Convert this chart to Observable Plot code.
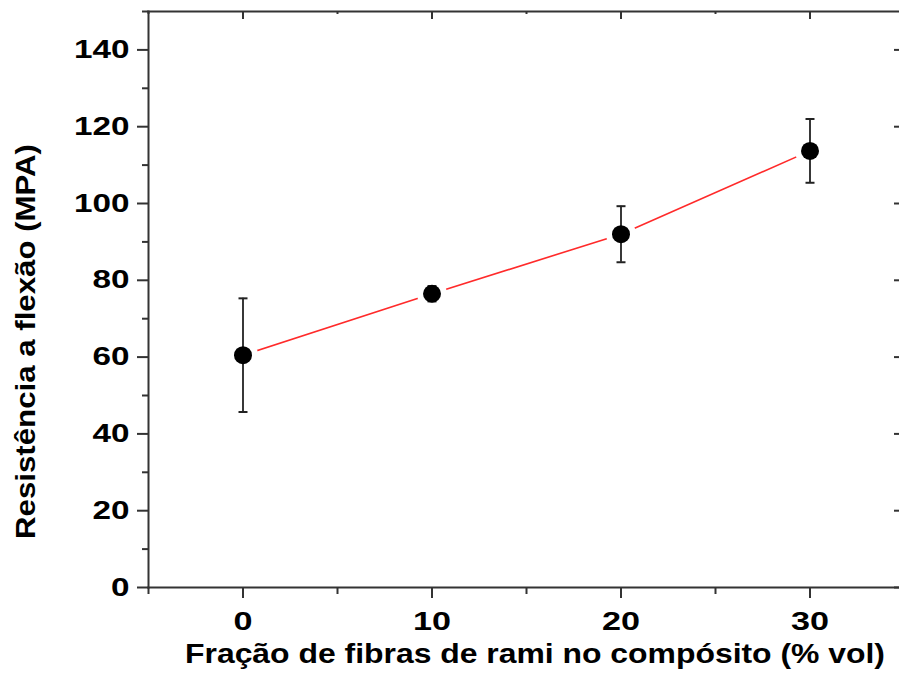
<!DOCTYPE html>
<html><head><meta charset="utf-8">
<script src="https://cdn.jsdelivr.net/npm/d3@7"></script>
<script src="https://cdn.jsdelivr.net/npm/@observablehq/plot@0.6"></script>
<style>html,body{margin:0;padding:0;background:#fff}</style>
</head><body><div id="chart"></div>
<script>
const fraction = [0, 10, 20, 30];
const strength = [60.5, 76.5, 92, 113.7];
const stdDev = [14.8, 2, 7.3, 8.3];
const xTicks = [0, 10, 20, 30];
const xMinorTicks = [-5, 5, 15, 25, 35];
const yTicks = [0, 20, 40, 60, 80, 100, 120, 140];
const yMinorTicks = [10, 30, 50, 70, 90, 110, 130, 150];
const xTitle = "Fração de fibras de rami no compósito (% vol)";
const yTitle = "Resistência a flexão (MPA)";

const data = fraction.map((x, i) => ({x, y: strength[i], lo: strength[i] - stdDev[i], hi: strength[i] + stdDev[i]}));

const W = 899, H = 673, ML = 148, MR = 0, MT = 11, MB = 86;
const innerW = W - ML - MR, innerH = H - MT - MB;
const capSymbol = {draw(ctx, size) { const w = Math.sqrt(size / Math.PI); ctx.moveTo(-w, 0); ctx.lineTo(w, 0); }};
const axisStroke = "#333";
const lab = {fontSize: 25, fontWeight: "bold", fill: "#000"};

const chart = Plot.plot({
  width: W, height: H, marginLeft: ML, marginRight: MR, marginTop: MT, marginBottom: MB,
  style: {fontFamily: "'Liberation Sans', Arial, sans-serif", background: "#fff", color: "#000"},
  x: {domain: [-5, 35], range: [ML, 904]},
  y: {domain: [0, 150], range: [H - MB, MT]},
  marks: [
    Plot.frame({anchor: "left", stroke: axisStroke, strokeWidth: 2}),
    Plot.frame({anchor: "bottom", stroke: axisStroke, strokeWidth: 2}),
    Plot.frame({anchor: "top", stroke: axisStroke, strokeWidth: 2}),
    Plot.axisY(yTicks, {anchor: "left", tickSize: 11, tickPadding: 8, stroke: axisStroke, strokeWidth: 2, label: null, ...lab}),
    Plot.axisY(yMinorTicks, {anchor: "left", tickSize: 6, text: null, stroke: axisStroke, strokeWidth: 2, label: null}),
    Plot.axisX(xTicks, {anchor: "bottom", tickSize: 11, tickPadding: 14, stroke: axisStroke, strokeWidth: 2, label: null, ...lab}),
    Plot.axisX(xMinorTicks, {anchor: "bottom", tickSize: 7, text: null, stroke: axisStroke, strokeWidth: 2, label: null}),
    Plot.tickY(yTicks, {y: d => d, insetLeft: innerW - 5, stroke: axisStroke, strokeWidth: 2}),
    Plot.tickX(xTicks, {x: d => d, insetBottom: innerH - 8, stroke: axisStroke, strokeWidth: 2}),
    Plot.tickX(xMinorTicks, {x: d => d, insetBottom: innerH - 3, stroke: axisStroke, strokeWidth: 2}),
    Plot.line(data, {x: "x", y: "y", stroke: "#ff2a2a", strokeWidth: 1.6}),
    Plot.dot(data, {x: "x", y: "y", r: 15, fill: "#fff"}),
    Plot.ruleX(data, {x: "x", y1: "lo", y2: "hi", stroke: "#222", strokeWidth: 1.8}),
    Plot.dot(data, {x: "x", y: "lo", symbol: capSymbol, r: 4.5, stroke: "#222", strokeWidth: 2}),
    Plot.dot(data, {x: "x", y: "hi", symbol: capSymbol, r: 4.5, stroke: "#222", strokeWidth: 2}),
    Plot.dot(data, {x: "x", y: "y", r: 9, fill: "#000"}),
    Plot.text([xTitle], {frameAnchor: "bottom", textAnchor: "middle", lineAnchor: "middle", dx: 11, dy: 67, fontSize: 27, fontWeight: "bold", fill: "#000"}),
    Plot.text([yTitle], {frameAnchor: "left", textAnchor: "middle", lineAnchor: "middle", dx: -122, dy: 42, rotate: -90, fontSize: 27, fontWeight: "bold", fill: "#000"})
  ]
});
document.getElementById("chart").appendChild(chart);

const svg = d3.select(chart);
function stretch(sel, fn) {
  svg.selectAll(sel).each(function() {
    const len = fn(this.textContent);
    if (len == null) return;
    this.setAttribute("textLength", len);
    this.setAttribute("lengthAdjust", "spacingAndGlyphs");
  });
}
stretch('g[aria-label="y-axis tick label"] text', t => t.length * 18.5);
stretch('g[aria-label="x-axis tick label"] text', t => t.length * 19);
stretch('text', t => t === xTitle ? 700 : t === yTitle ? 395 : null);
</script>
</body></html>
